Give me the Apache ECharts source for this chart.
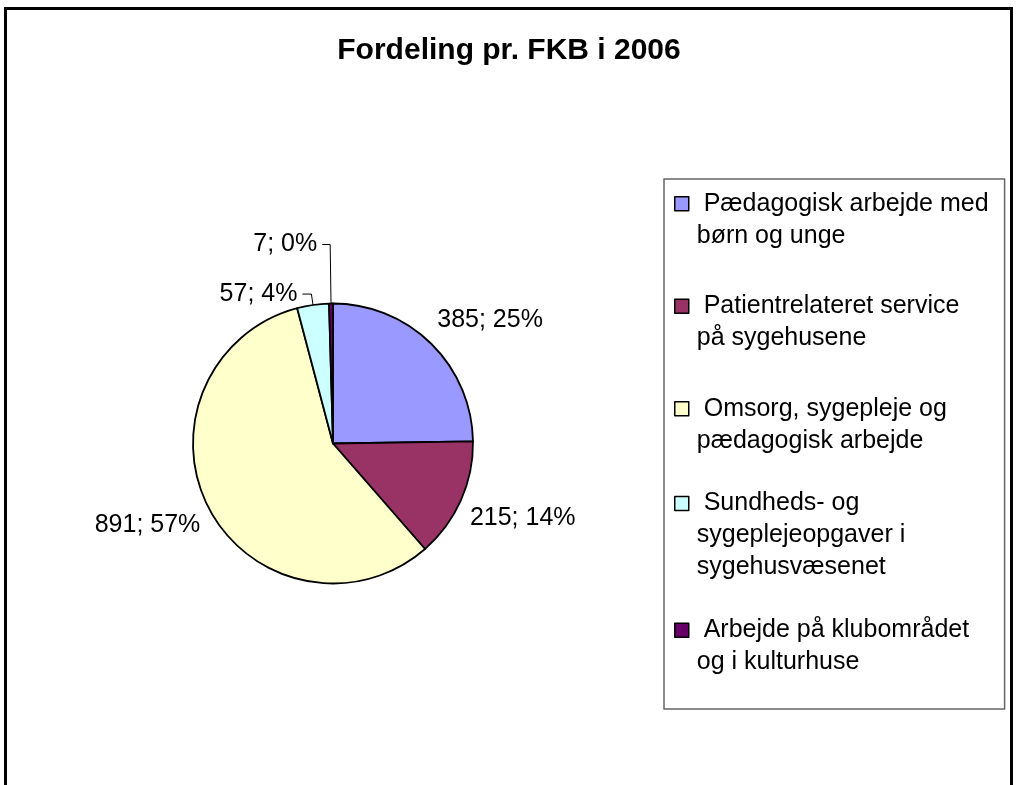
<!DOCTYPE html>
<html>
<head>
<meta charset="utf-8">
<title>Fordeling pr. FKB i 2006</title>
<script src="https://cdn.jsdelivr.net/npm/echarts@6/dist/echarts.min.js"></script>
<style>
html, body { margin: 0; padding: 0; background: #fff; }
#main { width: 1018px; height: 785px; }
</style>
</head>
<body>
<div id="main"></div>
<script>
var categories = [
	'Pædagogisk arbejde med\nbørn og unge',
	'Patientrelateret service\npå sygehusene',
	'Omsorg, sygepleje og\npædagogisk arbejde',
	'Sundheds- og\nsygeplejeopgaver i\nsygehusvæsenet',
	'Arbejde på klubområdet\nog i kulturhuse'
];
var values = [385, 215, 891, 57, 7];
var colors = ['#9999FF', '#993366', '#FFFFCC', '#CCFFFF', '#660066'];

function initChart() {
	var chart = echarts.init(document.getElementById('main'));
	var font = '"Liberation Sans", Arial, sans-serif';
	var lineH = 32;
	var iconH = 78;
	// legend text is centred on the icon box, so the square is moved up to the first line
	var iconFor = {
		2: 'path://M0,0M14,' + iconH + 'M0,16h14v14h-14z',
		3: 'path://M0,0h14v14h-14zM14,' + iconH
	};
	// leader lines only for the two thin slices
	var leaders = [null, null, null, {length: 11, length2: 9}, {length: 59, length2: 8}];
	// big labels sit right next to the rim, like excel does
	var shifts = [[1, -24], [4, 18], [-4, 16]];

	var pieData = [];
	var legendData = [];
	for (var i = 0; i < values.length; i++) {
		var lead = leaders[i];
		pieData.push({
			name: categories[i],
			value: values[i],
			itemStyle: {color: colors[i]},
			labelLine: lead ? {show: true, length: lead.length, length2: lead.length2}
				: {show: false, length: 0, length2: 0}
		});
		var lines = categories[i].split('\n').length;
		legendData.push({
			name: categories[i],
			icon: iconFor[lines]
		});
	}

	var option = {
		backgroundColor: '#fff',
		animation: false,
		title: {
			text: 'Fordeling pr. FKB i 2006',
			left: 'center',
			top: 31,
			textStyle: {color: '#000', fontSize: 30, fontWeight: 'bold', fontFamily: font}
		},
		legend: {
			orient: 'vertical',
			left: 664,
			top: 179,
			padding: [1, 16, 23, 10],
			itemGap: 23,
			itemWidth: 14,
			itemHeight: iconH,
			symbolKeepAspect: false,
			borderColor: '#666',
			borderWidth: 1.5,
			selectedMode: false,
			itemStyle: {borderColor: '#000', borderWidth: 1.5},
			textStyle: {color: '#000', fontSize: 25, lineHeight: lineH, fontFamily: font, padding: [0, 0, 0, 3]},
			formatter: function (name) {
				return ' ' + name;
			},
			data: legendData
		},
		graphic: [{
			type: 'rect',
			silent: true,
			shape: {x: 5.5, y: 8.5, width: 1006, height: 800},
			style: {fill: 'none', stroke: '#000', lineWidth: 3}
		}],
		series: [{
			type: 'pie',
			center: [333, 443.5],
			radius: 140,
			startAngle: 90,
			clockwise: true,
			avoidLabelOverlap: false,
			percentPrecision: 0,
			itemStyle: {borderColor: '#000', borderWidth: 1.8},
			label: {
				show: true,
				position: 'outside',
				formatter: '{c}; {d}%',
				color: '#000',
				fontSize: 25,
				fontFamily: font
			},
			labelLine: {smooth: false, lineStyle: {color: '#000', width: 1}},
			labelLayout: function (params) {
				var s = shifts[params.dataIndex];
				if (!s) {
					return {};
				}
				return {dx: s[0], dy: s[1]};
			},
			emphasis: {disabled: true},
			data: pieData
		}]
	};
	chart.setOption(option);
}
initChart();
</script>
</body>
</html>
